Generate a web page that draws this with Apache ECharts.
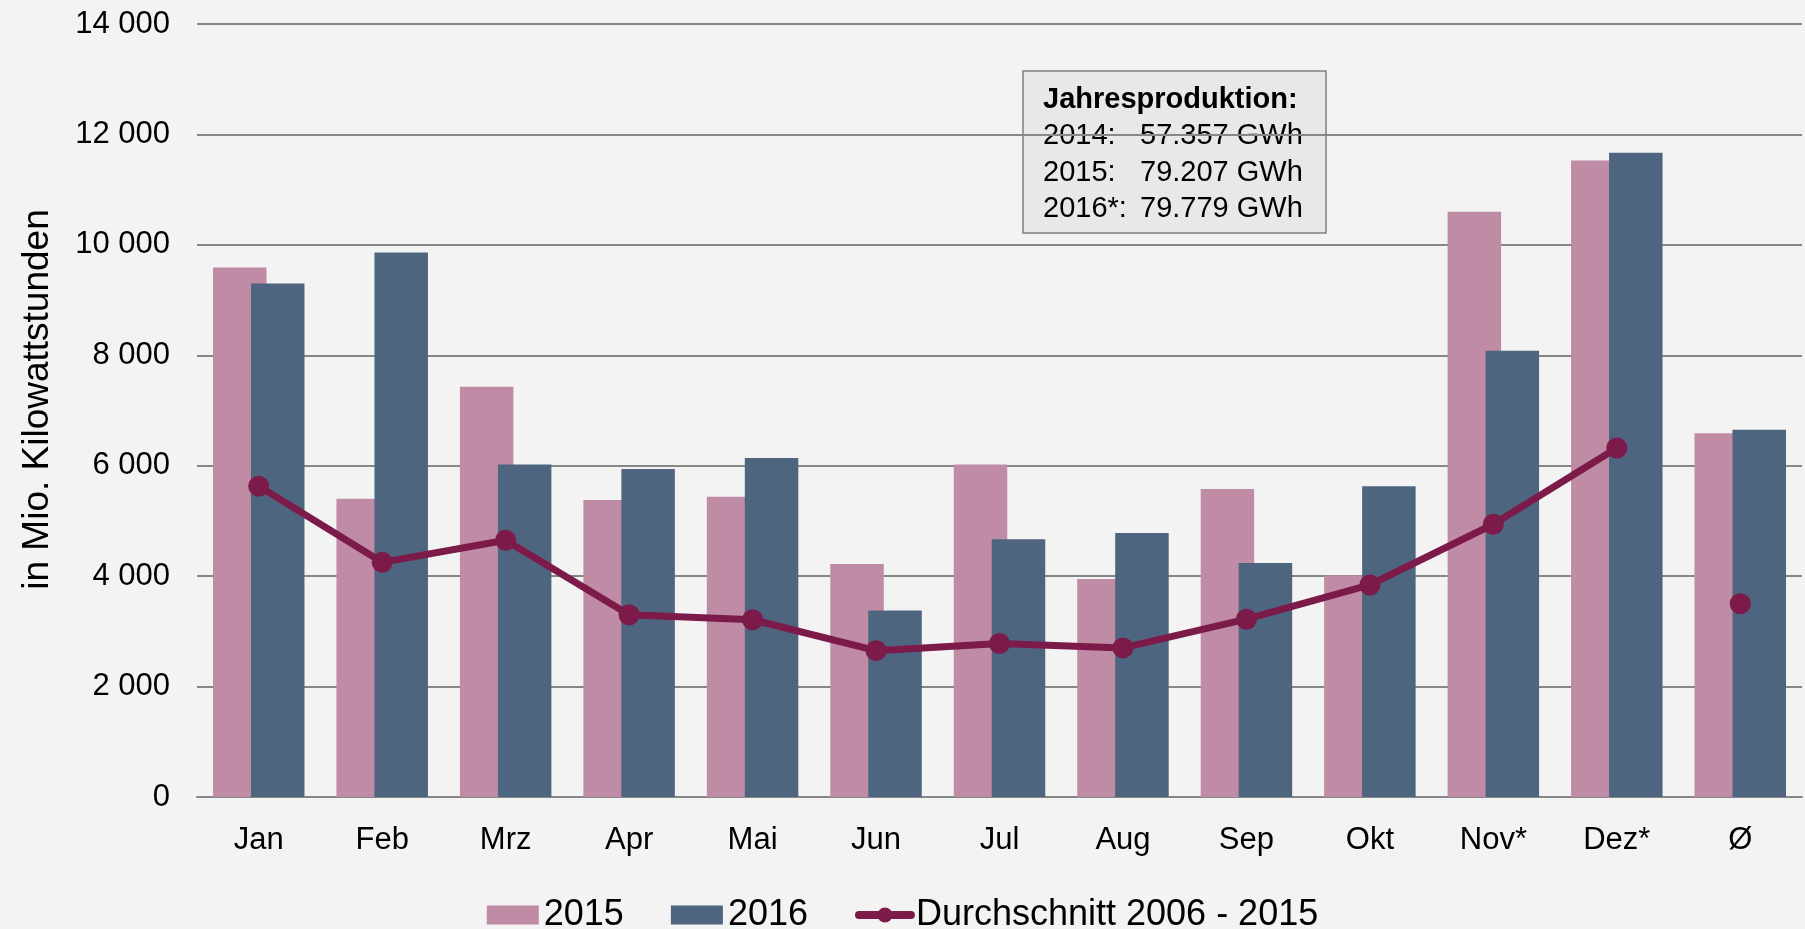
<!DOCTYPE html>
<html>
<head>
<meta charset="utf-8">
<title>Jahresproduktion</title>
<script src="https://cdn.jsdelivr.net/npm/echarts@6/dist/echarts.min.js"></script>
<style>
  html, body { margin: 0; padding: 0; background: #f3f3f3; }
  #chart { width: 1805px; height: 929px; }
</style>
</head>
<body>
<div id="chart"></div>
<script>
// Monate + Jahresmittel
const months = ['Jan', 'Feb', 'Mrz', 'Apr', 'Mai', 'Jun', 'Jul', 'Aug', 'Sep', 'Okt', 'Nov*', 'Dez*', 'Ø'];
const values2015 = [9590, 5400, 7430, 5380, 5440, 4220, 6020, 3950, 5580, 4010, 10600, 11530, 6590];
const values2016 = [9300, 9860, 6020, 5940, 6140, 3380, 4670, 4780, 4240, 5630, 8080, 11670, 6650];
// Durchschnitt 2006-2015, letzter Wert = Ø (nicht verbunden)
const average = [5630, 4250, 4650, 3300, 3210, 2650, 2780, 2700, 3220, 3840, 4940, 6320, 3500];
const yTicks = [0, 2000, 4000, 6000, 8000, 10000, 12000, 14000];

// Kasten Jahresproduktion
const boxTitle = 'Jahresproduktion:';
const boxYears = ['2014:', '2015:', '2016*:'];
const boxValues = ['57.357 GWh', '79.207 GWh', '79.779 GWh'];

const FONT = '"Liberation Sans", Arial, sans-serif';
const PINK = '#bf8ba5';
const BLUE = '#4e6580';
const WINE = '#7c1a4a';
const GRID = '#878787';

const last = months.length - 1;
const lineData = average.map((v, i) => (i === last ? '-' : v));
const avgPoint = average.map((v, i) => (i === last ? v : '-'));

function fmt(v) {
  return String(v).replace(/\B(?=(\d{3})+(?!\d))/g, ' ');
}

const boxTexts = [];
boxTexts.push({
  type: 'text',
  style: { x: 1043, y: 100, text: boxTitle, font: 'bold 29px ' + FONT, fill: '#000', verticalAlign: 'middle' }
});
boxYears.forEach((t, i) => {
  boxTexts.push({
    type: 'text',
    style: { x: 1043, y: 136 + i * 36.5, text: t, font: '29px ' + FONT, fill: '#000', verticalAlign: 'middle' }
  });
  boxTexts.push({
    type: 'text',
    style: { x: 1140, y: 136 + i * 36.5, text: boxValues[i], font: '29px ' + FONT, fill: '#000', verticalAlign: 'middle' }
  });
});

const chart = echarts.init(document.getElementById('chart'));
const option = {
  backgroundColor: '#f3f3f3',
  animation: false,
  grid: { left: 197, right: 3, top: 24, bottom: 132 },
  legend: {
    left: 'center',
    top: 892,
    itemWidth: 52,
    itemHeight: 19,
    itemGap: 47,
    textStyle: { fontFamily: FONT, fontSize: 36, color: '#000' },
    data: [
      { name: '2015', icon: 'rect' },
      { name: '2016', icon: 'rect' },
      { name: 'Durchschnitt 2006 - 2015', lineStyle: { width: 8, cap: 'round' } }
    ]
  },
  xAxis: {
    type: 'category',
    data: months,
    axisTick: { show: false },
    axisLine: { lineStyle: { color: GRID, width: 2 } },
    axisLabel: { fontFamily: FONT, fontSize: 31, color: '#000', margin: 28 }
  },
  yAxis: {
    type: 'value',
    min: yTicks[0],
    max: yTicks[yTicks.length - 1],
    interval: yTicks[1] - yTicks[0],
    name: 'in Mio. Kilowattstunden',
    nameLocation: 'middle',
    nameRotate: 90,
    nameGap: 141,
    nameTextStyle: { fontFamily: FONT, fontSize: 37, color: '#000', padding: [0, 0, 0, 22] },
    axisLine: { show: false },
    axisTick: { show: false },
    splitLine: { lineStyle: { color: GRID, width: 2 } },
    axisLabel: { fontFamily: FONT, fontSize: 31, color: '#000', margin: 27, formatter: fmt }
  },
  series: [
    {
      name: '2015',
      type: 'bar',
      data: values2015,
      barWidth: 53.5,
      barGap: '-29%',
      itemStyle: { color: PINK }
    },
    {
      name: '2016',
      type: 'bar',
      data: values2016,
      barWidth: 53.5,
      itemStyle: { color: BLUE }
    },
    {
      name: 'Durchschnitt 2006 - 2015',
      type: 'line',
      data: lineData,
      symbol: 'circle',
      symbolSize: 21,
      lineStyle: { color: WINE, width: 7 },
      itemStyle: { color: WINE },
      z: 3
    },
    {
      name: 'Durchschnitt 2006 - 2015',
      type: 'line',
      data: avgPoint,
      symbol: 'circle',
      symbolSize: 21,
      showSymbol: true,
      lineStyle: { color: WINE, width: 7 },
      itemStyle: { color: WINE },
      z: 3
    }
  ],
  graphic: [
    {
      type: 'group',
      children: [
        {
          type: 'rect',
          shape: { x: 1023, y: 71, width: 303, height: 162 },
          style: { fill: '#e8e8e8', stroke: '#7f7f7f', lineWidth: 1.5 }
        }
      ].concat(boxTexts)
    }
  ]
};
chart.setOption(option);
</script>
</body>
</html>
